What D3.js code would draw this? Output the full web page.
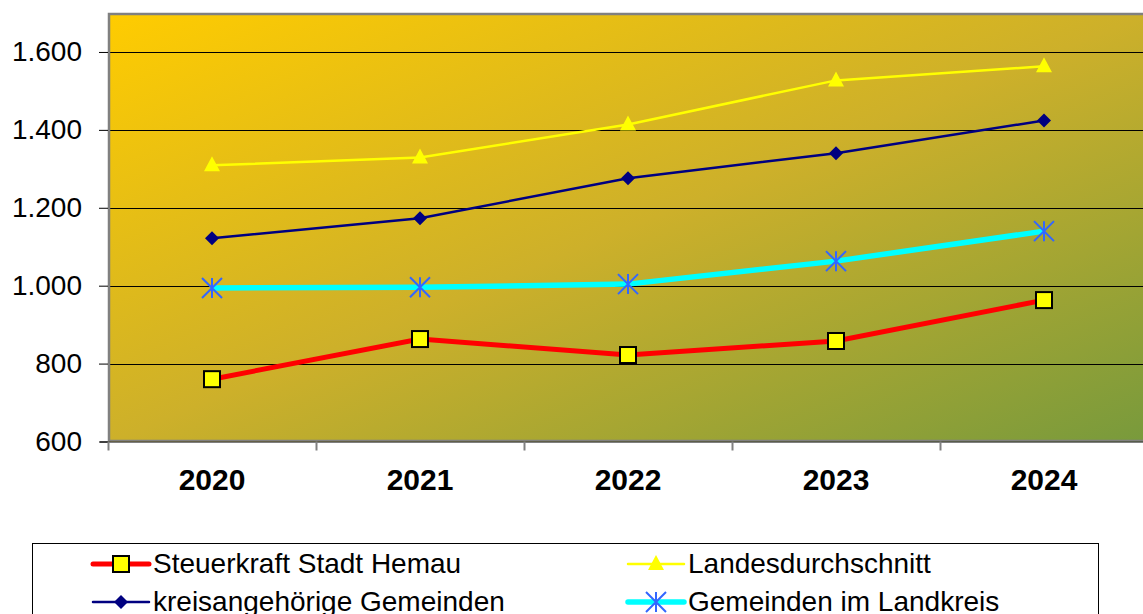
<!DOCTYPE html>
<html>
<head>
<meta charset="utf-8">
<script src="https://cdn.jsdelivr.net/npm/d3@7"></script>
<style>
  body { margin: 0; background: #fff; }
  svg { display: block; font-family: "Liberation Sans", Arial, sans-serif; }
</style>
</head>
<body>
<script>
var years = ["2020", "2021", "2022", "2023", "2024"]
var yTicks = [600, 800, 1000, 1200, 1400, 1600]
var hemau = [760, 863, 822, 858, 963]
var landesschnitt = [1309, 1329, 1414, 1527, 1563]
var kreisangehoerige = [1122, 1173, 1276, 1340, 1424]
var landkreis = [994, 996, 1004, 1063, 1140]

var seriesNames = ["Steuerkraft Stadt Hemau", "Landesdurchschnitt", "kreisangehörige Gemeinden", "Gemeinden im Landkreis"]

var W = 1143, H = 614
var margin = {top: 13, left: 108}
var width = 1040, height = 428.5

var svg = d3.select("body").append("svg").attr("width", W).attr("height", H)

var defs = svg.append("defs")
var grad = defs.append("linearGradient").attr("id", "bg")
    .attr("x1", "0%").attr("y1", "0%").attr("x2", "100%").attr("y2", "100%")
grad.append("stop").attr("offset", "0%").attr("stop-color", "#ffcc00")
grad.append("stop").attr("offset", "50%").attr("stop-color", "#cdb02a")
grad.append("stop").attr("offset", "100%").attr("stop-color", "#789a3c")

var g = svg.append("g").attr("transform", "translate(" + margin.left + "," + margin.top + ")")

var x = d3.scaleBand().domain(years).range([0, width])
var y = d3.scaleLinear().domain([600, 1700]).range([height, 0])

g.append("rect").attr("width", width).attr("height", height).attr("fill", "url(#bg)")

// gridlines
g.selectAll(".grid").data(yTicks.slice(1)).enter().append("line")
    .attr("x1", 0).attr("x2", width)
    .attr("y1", function(d) { return Math.round(y(d)) + 0.5 })
    .attr("y2", function(d) { return Math.round(y(d)) + 0.5 })
    .attr("stroke", "#000").attr("stroke-width", 1)

// plot border (left + top gray)
g.append("path").attr("d", "M1," + height + "V1H" + (width + 10))
    .attr("fill", "none").attr("stroke", "#808080").attr("stroke-width", 2.5)
g.append("line").attr("x1", 0).attr("x2", width).attr("y1", height - 1).attr("y2", height - 1)
    .attr("stroke", "#808080").attr("stroke-width", 1.5)

// y axis
var yAxis = g.append("g").call(d3.axisLeft(y).tickValues(yTicks).tickSize(9).tickPadding(17)
    .tickFormat(function(d) { return d3.format(",")(d).replace(/,/g, ".") }))
yAxis.select(".domain").remove()
yAxis.selectAll("line").attr("stroke", "#000")
yAxis.selectAll("text").attr("font-size", null).style("font-size", "28px").attr("fill", "#000")
    .attr("font-family", "Liberation Sans, Arial, sans-serif")
yAxis.attr("font-size", null)

// x axis
var xAxis = g.append("g").attr("transform", "translate(0," + height + ")")
xAxis.append("line").attr("x1", -8).attr("x2", width).attr("y1", 0.5).attr("y2", 0.5).attr("stroke", "#000")
xAxis.selectAll(".xt").data(d3.range(years.length + 1)).enter().append("line")
    .attr("x1", function(i) { return i * x.step() + 0.5 })
    .attr("x2", function(i) { return i * x.step() + 0.5 })
    .attr("y1", 0).attr("y2", 9).attr("stroke", "#808080").attr("stroke-width", 2)
xAxis.selectAll(".xl").data(years).enter().append("text")
    .attr("x", function(d) { return x(d) + x.bandwidth() / 2 })
    .attr("y", 48)
    .attr("text-anchor", "middle")
    .style("font-size", "30px").style("font-weight", "bold")
    .text(function(d) { return d })

function cx(i) { return x(years[i]) + x.bandwidth() / 2 }

var line = d3.line().x(function(d, i) { return cx(i) }).y(function(d) { return y(d) })

// marker drawers
function square(sel, px, py) {
    sel.append("rect").attr("x", px - 8).attr("y", py - 8).attr("width", 16).attr("height", 16)
        .attr("fill", "#ffff00").attr("stroke", "#000").attr("stroke-width", 2)
}
function triangle(sel, px, py) {
    sel.append("path").attr("d", "M" + px + "," + (py - 9) + "L" + (px + 8) + "," + (py + 6) + "L" + (px - 8) + "," + (py + 6) + "Z")
        .attr("fill", "#ffff00")
}
function diamond(sel, px, py) {
    sel.append("path").attr("d", "M" + px + "," + (py - 7) + "L" + (px + 7) + "," + py + "L" + px + "," + (py + 7) + "L" + (px - 7) + "," + py + "Z")
        .attr("fill", "#000080")
}
function asterisk(sel, px, py) {
    var r = 10
    sel.append("path").attr("d",
        "M" + px + "," + (py - r) + "V" + (py + r) +
        "M" + (px - r) + "," + (py - r) + "L" + (px + r) + "," + (py + r) +
        "M" + (px + r) + "," + (py - r) + "L" + (px - r) + "," + (py + r))
        .attr("stroke", "#3366ff").attr("stroke-width", 2).attr("fill", "none")
}

var series = [
    {name: seriesNames[0], data: hemau, color: "#ff0000", w: 5, marker: square},
    {name: seriesNames[1], data: landesschnitt, color: "#ffff00", w: 2.5, marker: triangle},
    {name: seriesNames[2], data: kreisangehoerige, color: "#000080", w: 2.5, marker: diamond},
    {name: seriesNames[3], data: landkreis, color: "#00ffff", w: 5.5, marker: asterisk}
]

var drawOrder = [3, 2, 1, 0]
drawOrder.forEach(function(k) {
    var s = series[k]
    g.append("path").datum(s.data).attr("d", line)
        .attr("fill", "none").attr("stroke", s.color).attr("stroke-width", s.w)
    s.data.forEach(function(v, i) { s.marker(g, cx(i), y(v)) })
})

// legend
var leg = svg.append("g")
leg.append("rect").attr("x", 32.5).attr("y", 543.5).attr("width", 1066).attr("height", 90)
    .attr("fill", "#fff").attr("stroke", "#000").attr("stroke-width", 1)

var legPos = [
    {x: 93, y: 564}, {x: 628, y: 564},
    {x: 93, y: 602}, {x: 628, y: 602}
]
series.forEach(function(s, k) {
    var p = legPos[k]
    var lg = leg.append("g")
    lg.append("line").attr("x1", p.x).attr("x2", p.x + 56).attr("y1", p.y).attr("y2", p.y)
        .attr("stroke", s.color).attr("stroke-width", s.w).attr("stroke-linecap", "round")
    s.marker(lg, p.x + 28, p.y)
    lg.append("text").attr("x", p.x + 60).attr("y", p.y + 9)
        .style("font-size", "28px").text(s.name)
})
</script>
</body>
</html>
